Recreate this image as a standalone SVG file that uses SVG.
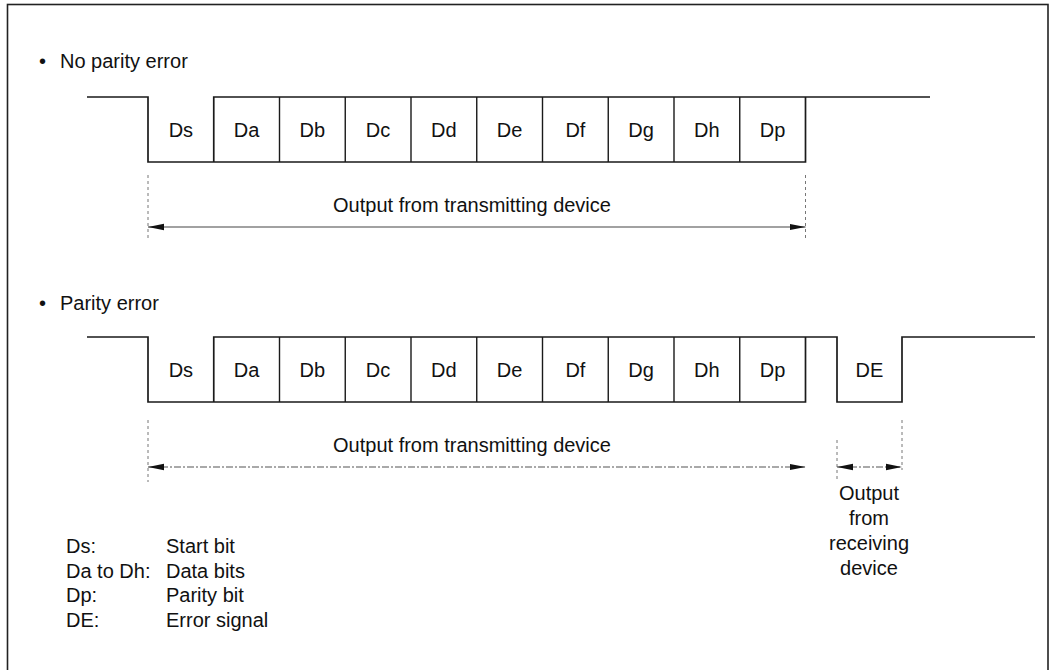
<svg xmlns="http://www.w3.org/2000/svg" width="1050" height="670" viewBox="0 0 1050 670">
<style>
text{font-family:"Liberation Sans",Arial,Helvetica,sans-serif;font-size:20px;fill:#111}
.c{text-anchor:middle}
.wave{fill:none;stroke:#1a1a1a;stroke-width:1.7;stroke-linejoin:miter}
.div{stroke:#1a1a1a;stroke-width:1.4}
.guide{stroke:#777;stroke-width:1;stroke-dasharray:3 3}
.arr{stroke:#444;stroke-width:1.1;fill:none}
.arrd{stroke:#555;stroke-width:1.1;fill:none;stroke-dasharray:7 2 2 2}
</style>
<defs>
<marker id="ah" markerUnits="userSpaceOnUse" markerWidth="16" markerHeight="8" refX="16" refY="4" orient="auto-start-reverse">
<path d="M0,0.8 L16,4 L0,7.2 Z" fill="#111"/>
</marker>
</defs>
<rect id="frame" x="7.5" y="4.5" width="1040.5" height="680" fill="#fff" stroke="#222" stroke-width="1.6"/>

<g id="heading-no-error"><text y="68"><tspan x="39">•</tspan><tspan x="60">No parity error</tspan></text></g>

<g id="wave-top">
<path class="wave" d="M87,97 H148 V162 H805.5 V97 H213.75 V162 M805.5,97 H930"/>
<path class="div" d="M279.5,97 V162 M345.25,97 V162 M411,97 V162 M476.75,97 V162 M542.5,97 V162 M608.25,97 V162 M674,97 V162 M739.75,97 V162"/>
<g id="top-Ds"><text class="c" x="180.9" y="137">Ds</text></g>
<g id="top-Da"><text class="c" x="246.6" y="137">Da</text></g>
<g id="top-Db"><text class="c" x="312.4" y="137">Db</text></g>
<g id="top-Dc"><text class="c" x="378.1" y="137">Dc</text></g>
<g id="top-Dd"><text class="c" x="443.9" y="137">Dd</text></g>
<g id="top-De"><text class="c" x="509.6" y="137">De</text></g>
<g id="top-Df"><text class="c" x="575.4" y="137">Df</text></g>
<g id="top-Dg"><text class="c" x="641.1" y="137">Dg</text></g>
<g id="top-Dh"><text class="c" x="706.9" y="137">Dh</text></g>
<g id="top-Dp"><text class="c" x="772.6" y="137">Dp</text></g>
</g>
<g id="label-top-tx"><text class="c" x="472" y="212">Output from transmitting device</text></g>

<g id="heading-error"><text y="310"><tspan x="39">•</tspan><tspan x="60">Parity error</tspan></text></g>

<g id="wave-bottom">
<path class="wave" d="M87,337 H148 V402 H805.5 V337 H213.75 V402 M805.5,337 H837 V402 H902 V337 H1035"/>
<path class="div" d="M279.5,337 V402 M345.25,337 V402 M411,337 V402 M476.75,337 V402 M542.5,337 V402 M608.25,337 V402 M674,337 V402 M739.75,337 V402"/>
<g id="bot-Ds"><text class="c" x="180.9" y="377">Ds</text></g>
<g id="bot-Da"><text class="c" x="246.6" y="377">Da</text></g>
<g id="bot-Db"><text class="c" x="312.4" y="377">Db</text></g>
<g id="bot-Dc"><text class="c" x="378.1" y="377">Dc</text></g>
<g id="bot-Dd"><text class="c" x="443.9" y="377">Dd</text></g>
<g id="bot-De"><text class="c" x="509.6" y="377">De</text></g>
<g id="bot-Df"><text class="c" x="575.4" y="377">Df</text></g>
<g id="bot-Dg"><text class="c" x="641.1" y="377">Dg</text></g>
<g id="bot-Dh"><text class="c" x="706.9" y="377">Dh</text></g>
<g id="bot-Dp"><text class="c" x="772.6" y="377">Dp</text></g>
<g id="bot-DE"><text class="c" x="869.5" y="377">DE</text></g>
</g>
<g id="label-bot-tx"><text class="c" x="472" y="452">Output from transmitting device</text></g>
<g id="label-rx">
<text class="c" x="869" y="500">Output</text>
<text class="c" x="869" y="525">from</text>
<text class="c" x="869" y="550">receiving</text>
<text class="c" x="869" y="575">device</text>
</g>

<g id="connectors">
<line class="guide" x1="148" y1="175" x2="148" y2="240"/>
<line class="guide" x1="805.5" y1="175" x2="805.5" y2="240"/>
<line class="arr" x1="148" y1="227" x2="805.5" y2="227" marker-start="url(#ah)" marker-end="url(#ah)"/>
<line class="guide" x1="148" y1="420" x2="148" y2="482"/>
<line class="guide" x1="837" y1="440" x2="837" y2="480"/>
<line class="guide" x1="902" y1="420" x2="902" y2="470"/>
<line class="arrd" x1="148" y1="467" x2="805.5" y2="467" marker-start="url(#ah)" marker-end="url(#ah)"/>
<line class="arrd" x1="837" y1="467" x2="902" y2="467" marker-start="url(#ah)" marker-end="url(#ah)"/>
</g>

<g id="legend">
<text x="66" y="553">Ds:</text><text x="166" y="553">Start bit</text>
<text x="66" y="578">Da to Dh:</text><text x="166" y="578">Data bits</text>
<text x="66" y="602">Dp:</text><text x="166" y="602">Parity bit</text>
<text x="66" y="627">DE:</text><text x="166" y="627">Error signal</text>
</g>
</svg>
